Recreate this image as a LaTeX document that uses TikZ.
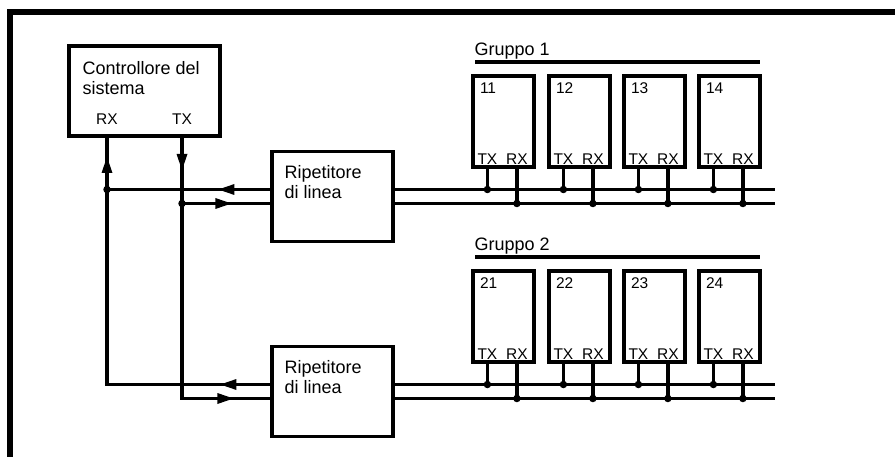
\documentclass[tikz,border=0pt]{standalone}
\usepackage{fontspec}
\setmainfont{Liberation Sans}
\usetikzlibrary{arrows.meta,decorations.markings,calc}
\tikzset{tri/.tip={Triangle[length=16pt,width=11pt,line width=0pt]}}
\begin{document}
\begin{tikzpicture}[x=1pt,y=-1pt,line width=3.2pt,
  box/.style={draw,line width=3.2pt,inner sep=0pt,rectangle},
  big/.style={font=\fontsize{18}{20}\selectfont,inner sep=0pt},
  small/.style={font=\fontsize{15.5}{17}\selectfont,inner sep=0pt},
  dot/.style={circle,fill,inner sep=0pt,minimum size=7.5pt},
  frameline/.style={line width=6pt,miter limit=4}]
\useasboundingbox (0,0) rectangle (895,457);
% frame
\draw[frameline] (10,457) -- (10,12.5) -- (895,12.5);
% controller
\node[box,minimum width=151pt,minimum height=90pt] (ctrl) at (144.5,91) {};
\node[big,anchor=base west] (ct1) at (81,75) {Controllore del};
\node[big,anchor=base west] (ct2) at (81,95) {sistema};
\node[small,anchor=base] (crx) at (107,125) {RX};
\node[small,anchor=base] (ctx) at (182,125) {TX};
\coordinate (cRX) at (107,136);
\coordinate (cTX) at (182,136);
% repeaters
\foreach \r/\dy in {1/0,2/195}{
  \node[box,minimum width=121pt,minimum height=90pt] (rep\r) at (332.5,196.5+\dy) {};
  \node[big,anchor=base west] (rt\r a) at (283,178.5+\dy) {Ripetitore};
  \node[big,anchor=base west] (rt\r b) at (283,198.5+\dy) {di linea};
  \coordinate (u\r) at (0,189.5+\dy);
  \coordinate (l\r) at (0,203.5+\dy);
  \coordinate (ue\r) at (775,189.5+\dy);
  \coordinate (le\r) at (775,203.5+\dy);
  % group header
  \node[big,anchor=base west] (g\r) at (473,55.5+\dy) {Gruppo \r};
  \coordinate (gs\r) at (475,62+\dy);
  \coordinate (ge\r) at (760,62+\dy);
  \draw (gs\r) -- (ge\r);
  % bus lines
  \draw (rep\r.east |- u\r) -- (ue\r);
  \draw (rep\r.east |- l\r) -- (le\r);
  % devices
  \foreach \i/\x in {1/473,2/549,3/624,4/699}{
    \node[box,minimum width=61pt,minimum height=91pt] (d\r\i) at (\x+30.5,121.5+\dy) {};
    \node[small,anchor=base west] (n\r\i) at ($(d\r\i.north west)+(7,19)$) {\r\i};
    \coordinate (tx\r\i) at ($(d\r\i.south west)+(16,0)$);
    \coordinate (rx\r\i) at ($(d\r\i.south west)+(45.5,0)$);
    \node[small,anchor=base] at ($(tx\r\i)+(0,-4)$) {TX};
    \node[small,anchor=base] at ($(rx\r\i)+(0,-4)$) {RX};
    \draw (tx\r\i) -- (tx\r\i |- u\r) node[dot] {};
    \draw (rx\r\i) -- (rx\r\i |- l\r) node[dot] {};
  }
}
% controller links
\draw[postaction={decorate},decoration={markings,
   mark=at position 50pt with {\arrow{tri}},
   mark=at position -21pt with {\arrow{tri}}}]
   (rep2.west |- u2) -- (cRX |- u2) -- (cRX);
\draw[postaction={decorate},decoration={markings,
   mark=at position 34pt with {\arrow{tri}},
   mark=at position -37pt with {\arrow{tri}}}]
   (cTX) -- (cTX |- l2) -- (rep2.west |- l2);
\draw[postaction={decorate},decoration={markings,
   mark=at position 52pt with {\arrow{tri}}}]
   (rep1.west |- u1) -- (cRX |- u1) node[dot] {};
\draw[postaction={decorate},decoration={markings,
   mark=at position -39pt with {\arrow{tri}}}]
   (cTX |- l1) node[dot] {} -- (rep1.west |- l1);
\end{tikzpicture}
\end{document}
